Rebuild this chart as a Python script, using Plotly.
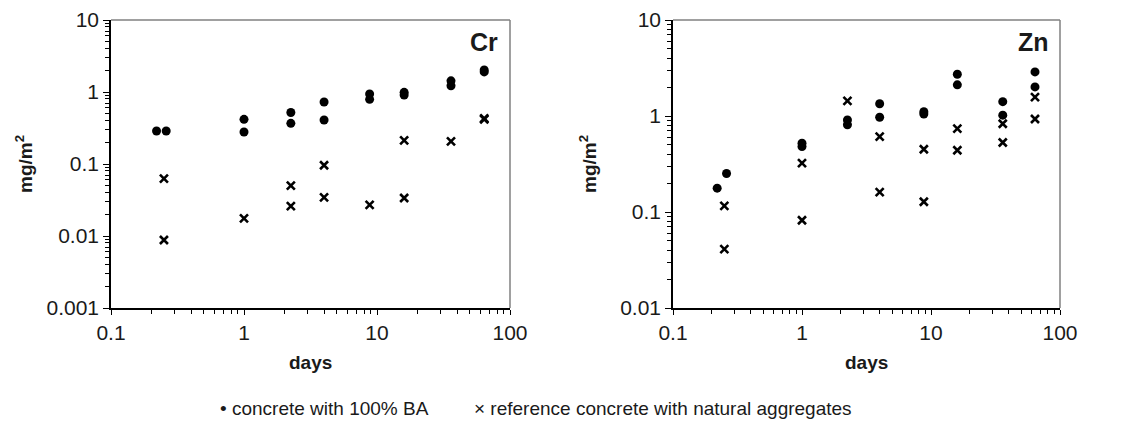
import plotly.graph_objects as go

# ---- data ----
days_cr_ba = [0.22, 0.26, 1, 1, 2.25, 2.25, 4, 4, 8.8, 8.8, 16, 16, 36, 36, 64, 64]
cr_ba = [0.287, 0.287, 0.417, 0.278, 0.52, 0.367, 0.726, 0.409, 0.94, 0.79, 0.99, 0.91, 1.43, 1.22, 2.02, 1.90]
days_cr_ref = [0.25, 0.25, 1, 2.25, 2.25, 4, 4, 8.8, 16, 16, 36, 64, 64]
cr_ref = [0.0625, 0.0088, 0.0176, 0.050, 0.026, 0.096, 0.0344, 0.027, 0.213, 0.0337, 0.206, 0.417, 0.43]

days_zn_ba = [0.22, 0.26, 1, 1, 2.25, 2.25, 4, 4, 8.8, 8.8, 16, 16, 36, 36, 64, 64]
zn_ba = [0.177, 0.252, 0.52, 0.48, 0.91, 0.81, 1.34, 0.97, 1.11, 1.05, 2.72, 2.11, 1.41, 1.02, 2.88, 2.01]
days_zn_ref = [0.25, 0.25, 1, 1, 2.25, 4, 4, 8.8, 8.8, 16, 16, 36, 36, 64, 64]
zn_ref = [0.116, 0.041, 0.323, 0.082, 1.44, 0.61, 0.161, 0.45, 0.128, 0.74, 0.44, 0.83, 0.53, 1.57, 0.93]

x_ticks = [0.1, 1, 10, 100]
x_ticklabels = ["0.1", "1", "10", "100"]
y_ticks_cr = [0.001, 0.01, 0.1, 1, 10]
y_ticklabels_cr = ["0.001", "0.01", "0.1", "1", "10"]
y_ticks_zn = [0.01, 0.1, 1, 10]
y_ticklabels_zn = ["0.01", "0.1", "1", "10"]

series_names = ["concrete with 100% BA", "reference concrete with natural aggregates"]
legend_glyphs = ["•", "×"]
x_title = "days"
y_title = "mg/m<sup>2</sup>"
panel_labels = ["Cr", "Zn"]

FONT = "Liberation Sans, Arial, sans-serif"
TXT = "#1a1a1a"
W, H = 1136, 441

def px_x(p):
    return p / W

def px_y(p):
    return 1 - p / H

dom_l = [px_x(111), px_x(510)]
dom_r = [px_x(673), px_x(1060)]
dom_y = [px_y(308), px_y(20)]

fig = go.Figure()

circle = dict(symbol="circle", size=9, color="black")
cross = dict(symbol="x-thin", size=8, color="black", line=dict(color="black", width=2.6))

fig.add_trace(go.Scatter(x=days_cr_ba, y=cr_ba, mode="markers", marker=circle,
                         name=series_names[0], xaxis="x", yaxis="y"))
fig.add_trace(go.Scatter(x=days_cr_ref, y=cr_ref, mode="markers", marker=cross,
                         name=series_names[1], xaxis="x", yaxis="y"))
fig.add_trace(go.Scatter(x=days_zn_ba, y=zn_ba, mode="markers", marker=circle,
                         name=series_names[0], xaxis="x2", yaxis="y2"))
fig.add_trace(go.Scatter(x=days_zn_ref, y=zn_ref, mode="markers", marker=cross,
                         name=series_names[1], xaxis="x2", yaxis="y2"))

tickfont = dict(family=FONT, size=21, color=TXT)
titlefont = dict(family=FONT, size=19, color=TXT, weight="bold")
minor = dict(ticks="outside", ticklen=4, tickcolor="black", tickwidth=1, dtick="D1", showgrid=False)

def xaxis(domain, anchor):
    return dict(domain=domain, anchor=anchor, type="log", range=[-1, 2],
                tickvals=x_ticks, ticktext=x_ticklabels, ticks="outside", ticklen=5,
                tickwidth=1, tickcolor="black", showline=True, linecolor="black", linewidth=1.5,
                showgrid=False, zeroline=False, tickfont=tickfont, minor=minor)

def yaxis(domain, anchor, rng, tv, tt):
    return dict(domain=domain, anchor=anchor, type="log", range=rng,
                tickvals=tv, ticktext=tt, ticks="outside", ticklen=6,
                tickwidth=1, tickcolor="black", showline=True, linecolor="black", linewidth=1.5,
                showgrid=False, zeroline=False, tickfont=tickfont, minor=minor)

fig.update_layout(
    width=W, height=H,
    margin=dict(l=0, r=0, t=0, b=0, autoexpand=False),
    paper_bgcolor="white", plot_bgcolor="white",
    font=dict(family=FONT, size=20, color=TXT),
    xaxis=xaxis(dom_l, "y"),
    yaxis=yaxis(dom_y, "x", [-3, 1], y_ticks_cr, y_ticklabels_cr),
    xaxis2=xaxis(dom_r, "y2"),
    yaxis2=yaxis(dom_y, "x2", [-2, 1], y_ticks_zn, y_ticklabels_zn),
    showlegend=False,
)

# gray frame lines (top and right)
for dom in (dom_l, dom_r):
    fig.add_shape(type="line", xref="paper", yref="paper", x0=dom[0], x1=dom[1], y0=dom_y[1], y1=dom_y[1],
                  line=dict(color="#808080", width=1.5))
    fig.add_shape(type="line", xref="paper", yref="paper", x0=dom[1], x1=dom[1], y0=dom_y[0], y1=dom_y[1],
                  line=dict(color="#808080", width=1.5))

# axis titles
for dom, ytx in ((dom_l, 24), (dom_r, 588)):
    fig.add_annotation(text=x_title, xref="paper", yref="paper", x=(dom[0] + dom[1]) / 2, y=px_y(362),
                       xanchor="center", yanchor="middle", showarrow=False, font=titlefont)
    fig.add_annotation(text=y_title, xref="paper", yref="paper", x=px_x(ytx), y=px_y(164),
                       xanchor="center", yanchor="middle", showarrow=False, textangle=-90, font=titlefont)

# panel labels
for lab, xr in zip(panel_labels, (500, 1051)):
    fig.add_annotation(text=lab, xref="paper", yref="paper", x=px_x(xr), y=px_y(42),
                       xanchor="right", yanchor="middle", showarrow=False,
                       font=dict(family=FONT, size=25, color=TXT, weight="bold"))

# legend row
for glyph, name, xpos in zip(legend_glyphs, series_names, (218, 472)):
    fig.add_annotation(text=f"{glyph} {name}", xref="paper", yref="paper", x=px_x(xpos), y=px_y(408),
                       xanchor="left", yanchor="middle", showarrow=False,
                       font=dict(family=FONT, size=19, color=TXT))

fig.write_html("out.html")
